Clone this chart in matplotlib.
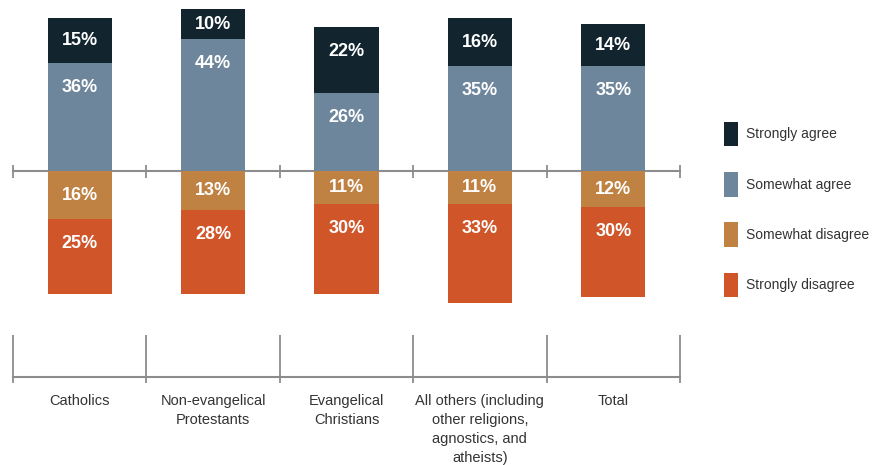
import matplotlib.pyplot as plt
import numpy as np

categories = ["Catholics", "Non-evangelical\nProtestants", "Evangelical\nChristians",
              "All others (including\nother religions,\nagnostics, and\natheists)", "Total"]
strongly_agree = [15, 10, 22, 16, 14]
somewhat_agree = [36, 44, 26, 35, 35]
somewhat_disagree = [16, 13, 11, 11, 12]
strongly_disagree = [25, 28, 30, 33, 30]

colors = {
    "Strongly agree": "#12252f",
    "Somewhat agree": "#6e869c",
    "Somewhat disagree": "#c08243",
    "Strongly disagree": "#d05529",
}
axis_gray = "#8c8c8c"
text_dark = "#333333"

plt.rcParams['font.family'] = ['Liberation Sans', 'DejaVu Sans']

fig = plt.figure(figsize=(8.73, 4.65), dpi=100)
ax = fig.add_axes([0, 0, 1, 1])
ax.set_xlim(-0.5975, 5.947)
ax.set_ylim(-98, 57)
ax.axis('off')

x = np.arange(len(categories))
w = 0.48


def label_seg(xs, tops, heights):
    # label sits a little below the top edge of each segment
    for xi, top, h in zip(xs, tops, heights):
        off = min(h / 2, 8.3)
        ax.text(xi, top - off, f"{h}%", ha='center', va='center', color='white',
                fontsize=13, fontweight='bold')


sa = np.array(somewhat_agree)
sd = np.array(somewhat_disagree)
ax.bar(x, sa, w, bottom=0, color=colors["Somewhat agree"], label="Somewhat agree")
ax.bar(x, strongly_agree, w, bottom=sa, color=colors["Strongly agree"], label="Strongly agree")
ax.bar(x, -sd, w, bottom=0, color=colors["Somewhat disagree"], label="Somewhat disagree")
ax.bar(x, -np.array(strongly_disagree), w, bottom=-sd, color=colors["Strongly disagree"],
       label="Strongly disagree")

label_seg(x, sa, somewhat_agree)
label_seg(x, sa + np.array(strongly_agree), strongly_agree)
label_seg(x, np.zeros(len(x)), somewhat_disagree)
label_seg(x, -sd, strongly_disagree)

# zero line with separators
edges = np.arange(len(categories) + 1) - 0.5
ax.plot([edges[0], edges[-1]], [0, 0], color=axis_gray, lw=1.5, zorder=0)
ax.vlines(edges, -2.2, 2.0, color=axis_gray, lw=1.3, zorder=0)

# bottom bracket
ax.plot([edges[0], edges[-1]], [-68.7, -68.7], color=axis_gray, lw=1.5)
ax.vlines(edges, -70.7, -54.7, color=axis_gray, lw=1.3)

for xi, cat in zip(x, categories):
    ax.text(xi, -74.3, cat, ha='center', va='top', fontsize=10.5, color=text_dark,
            linespacing=1.45)

handles, labels = ax.get_legend_handles_labels()
order = [1, 0, 2, 3]
fig.legend([handles[i] for i in order], [labels[i] for i in order],
           loc='upper left', bbox_to_anchor=(0.8155, 0.765), frameon=False,
           fontsize=10, handlelength=1.0, handleheight=2.35, labelspacing=1.85,
           handletextpad=0.55, labelcolor=text_dark)

fig.savefig("out.png", dpi=100)
